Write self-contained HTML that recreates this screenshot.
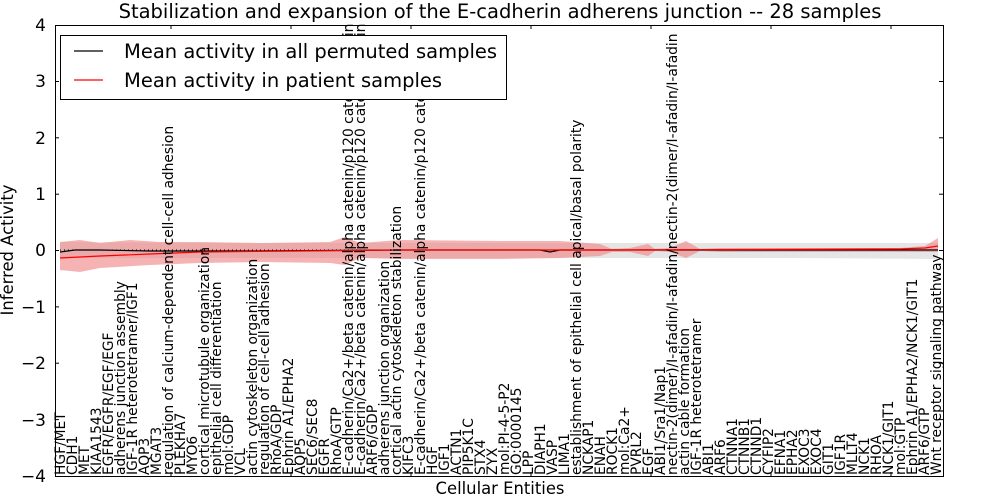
<!DOCTYPE html>
<html><head><meta charset="utf-8"><style>
body{margin:0;background:#fff;width:1000px;height:500px;overflow:hidden;font-family:"DejaVu Sans","Liberation Sans",sans-serif}
</style></head><body>
<svg width="1000" height="500" xmlns="http://www.w3.org/2000/svg" font-family="DejaVu Sans, Liberation Sans, sans-serif">
<rect width="1000" height="500" fill="#fff"/>
<polygon fill="#d3d3d3" fill-opacity="0.6" points="60,242 200,243 400,243 600,243 700,243 800,243 938,243 938,259 800,258 700,258 600,258 400,258 200,258 60,258"/>
<polygon fill="#f08080" fill-opacity="0.6" points="60,242 80,240 100,243 130,240 160,242 200,242 260,243 330,242 345,237 360,243 400,240 500,241 560,241 600,244 612,249 630,248 648,244 655,249 670,248 686,241 700,249 720,248 900,248 925,246 938,238 938,252 925,252 900,252 720,252 700,251 686,258 670,252 655,251 648,256 630,252 612,252 600,256 560,258 500,259 400,259 360,258 345,265 330,263 260,262 200,263 150,265 100,268 80,272 60,270"/>
<polyline fill="none" stroke="#000" stroke-width="1" stroke-dasharray="1,3" points="60,250 938,250"/>
<polyline fill="none" stroke="#000" stroke-width="1.2" points="60,252 75,250 100,250 150,251 250,251 400,250 540,250 550,252 560,250 938,250"/>
<polyline fill="none" stroke="#f00" stroke-width="1.2" points="60,258 100,256 150,254 200,252 300,251 400,250 600,250 900,249 925,248 938,246"/>
<rect x="55.5" y="25.5" width="888" height="451" fill="none" stroke="#000" stroke-width="1"/>
<g stroke="#000" stroke-width="1">
<line x1="171" y1="476" x2="171" y2="472"/><line x1="291" y1="476" x2="291" y2="472"/><line x1="411" y1="476" x2="411" y2="472"/><line x1="531" y1="476" x2="531" y2="472"/><line x1="651" y1="476" x2="651" y2="472"/><line x1="771" y1="476" x2="771" y2="472"/><line x1="891" y1="476" x2="891" y2="472"/>
<line x1="171" y1="25" x2="171" y2="29"/><line x1="291" y1="25" x2="291" y2="29"/><line x1="411" y1="25" x2="411" y2="29"/><line x1="531" y1="25" x2="531" y2="29"/><line x1="651" y1="25" x2="651" y2="29"/><line x1="771" y1="25" x2="771" y2="29"/><line x1="891" y1="25" x2="891" y2="29"/>
<line x1="55" y1="81.5" x2="59" y2="81.5"/><line x1="55" y1="137.8" x2="59" y2="137.8"/><line x1="55" y1="194.2" x2="59" y2="194.2"/><line x1="55" y1="250.5" x2="59" y2="250.5"/><line x1="55" y1="306.9" x2="59" y2="306.9"/><line x1="55" y1="363.2" x2="59" y2="363.2"/><line x1="55" y1="419.6" x2="59" y2="419.6"/>
<line x1="943" y1="81.5" x2="939" y2="81.5"/><line x1="943" y1="137.8" x2="939" y2="137.8"/><line x1="943" y1="194.2" x2="939" y2="194.2"/><line x1="943" y1="250.5" x2="939" y2="250.5"/><line x1="943" y1="306.9" x2="939" y2="306.9"/><line x1="943" y1="363.2" x2="939" y2="363.2"/><line x1="943" y1="419.6" x2="939" y2="419.6"/>
</g>
<g font-size="17" text-anchor="end" fill="#000">
<text x="46" y="31">4</text><text x="46" y="87">3</text><text x="46" y="144">2</text><text x="46" y="200">1</text><text x="46" y="256">0</text><text x="46" y="313">−1</text><text x="46" y="369">−2</text><text x="46" y="426">−3</text><text x="46" y="482">−4</text>
</g>
<text x="500" y="18" font-size="19.5" text-anchor="middle">Stabilization and expansion of the E-cadherin adherens junction -- 28 samples</text>
<text x="500" y="494" font-size="16.4" text-anchor="middle">Cellular Entities</text>
<text transform="translate(13,250) rotate(-90)" font-size="16.4" text-anchor="middle">Inferred Activity</text>
<g font-size="13.8">
<text transform="translate(65,475) rotate(-90)">HGF/MET</text>
<text transform="translate(77,475) rotate(-90)">CDH1</text>
<text transform="translate(89,475) rotate(-90)">MET</text>
<text transform="translate(101,475) rotate(-90)">KIAA1543</text>
<text transform="translate(113,475) rotate(-90)">EGFR/EGFR/EGF/EGF</text>
<text transform="translate(125,475) rotate(-90)">adherens junction assembly</text>
<text transform="translate(137,475) rotate(-90)">IGF-1R heterotetramer/IGF1</text>
<text transform="translate(149,475) rotate(-90)">AQP3</text>
<text transform="translate(161,475) rotate(-90)">MGAT3</text>
<text transform="translate(173,475) rotate(-90)">regulation of calcium-dependent cell-cell adhesion</text>
<text transform="translate(185,475) rotate(-90)">PLEKHA7</text>
<text transform="translate(197,475) rotate(-90)">MYO6</text>
<text transform="translate(209,475) rotate(-90)">cortical microtubule organization</text>
<text transform="translate(221,475) rotate(-90)">epithelial cell differentiation</text>
<text transform="translate(233,475) rotate(-90)">mol:GDP</text>
<text transform="translate(245,475) rotate(-90)">VCL</text>
<text transform="translate(257,475) rotate(-90)">actin cytoskeleton organization</text>
<text transform="translate(269,475) rotate(-90)">regulation of cell-cell adhesion</text>
<text transform="translate(281,475) rotate(-90)">RhoA/GDP</text>
<text transform="translate(293,475) rotate(-90)">Ephrin A1/EPHA2</text>
<text transform="translate(305,475) rotate(-90)">AQP5</text>
<text transform="translate(317,475) rotate(-90)">SEC6/SEC8</text>
<text transform="translate(329,475) rotate(-90)">EGFR</text>
<text transform="translate(341,475) rotate(-90)">RhoA/GTP</text>
<text transform="translate(353,475) rotate(-90)">E-cadherin/Ca2+/beta catenin/alpha catenin/p120 catenin/Nectin</text>
<text transform="translate(365,475) rotate(-90)">E-cadherin/Ca2+/beta catenin/alpha catenin/p120 catenin/Nectin</text>
<text transform="translate(377,475) rotate(-90)">ARF6/GDP</text>
<text transform="translate(389,475) rotate(-90)">adherens junction organization</text>
<text transform="translate(401,475) rotate(-90)">cortical actin cytoskeleton stabilization</text>
<text transform="translate(413,475) rotate(-90)">KIFC3</text>
<text transform="translate(425,475) rotate(-90)">E-cadherin/Ca2+/beta catenin/alpha catenin/p120 catenin</text>
<text transform="translate(437,475) rotate(-90)">HGF</text>
<text transform="translate(449,475) rotate(-90)">IGF1</text>
<text transform="translate(461,475) rotate(-90)">ACTN1</text>
<text transform="translate(473,475) rotate(-90)">PIP5K1C</text>
<text transform="translate(485,475) rotate(-90)">STX4</text>
<text transform="translate(497,475) rotate(-90)">ZYX</text>
<text transform="translate(509,475) rotate(-90)">mol:PI-4-5-P2</text>
<text transform="translate(521,475) rotate(-90)">GO:0000145</text>
<text transform="translate(533,475) rotate(-90)">LPP</text>
<text transform="translate(545,475) rotate(-90)">DIAPH1</text>
<text transform="translate(557,475) rotate(-90)">VASP</text>
<text transform="translate(569,475) rotate(-90)">LIMA1</text>
<text transform="translate(581,475) rotate(-90)">establishment of epithelial cell apical/basal polarity</text>
<text transform="translate(593,475) rotate(-90)">NCKAP1</text>
<text transform="translate(605,475) rotate(-90)">ENAH</text>
<text transform="translate(617,475) rotate(-90)">ROCK1</text>
<text transform="translate(629,475) rotate(-90)">mol:Ca2+</text>
<text transform="translate(641,475) rotate(-90)">PVRL2</text>
<text transform="translate(653,475) rotate(-90)">EGF</text>
<text transform="translate(665,475) rotate(-90)">ABI1/Sra1/Nap1</text>
<text transform="translate(677,475) rotate(-90)">nectin-2(dimer)/I-afadin/I-afadin/nectin-2(dimer/I-afadin/I-afadin</text>
<text transform="translate(689,475) rotate(-90)">actin cable formation</text>
<text transform="translate(701,475) rotate(-90)">IGF-1R heterotetramer</text>
<text transform="translate(713,475) rotate(-90)">ABI1</text>
<text transform="translate(725,475) rotate(-90)">ARF6</text>
<text transform="translate(737,475) rotate(-90)">CTNNA1</text>
<text transform="translate(749,475) rotate(-90)">CTNNB1</text>
<text transform="translate(761,475) rotate(-90)">CTNND1</text>
<text transform="translate(773,475) rotate(-90)">CYFIP2</text>
<text transform="translate(785,475) rotate(-90)">EFNA1</text>
<text transform="translate(797,475) rotate(-90)">EPHA2</text>
<text transform="translate(809,475) rotate(-90)">EXOC3</text>
<text transform="translate(821,475) rotate(-90)">EXOC4</text>
<text transform="translate(833,475) rotate(-90)">GIT1</text>
<text transform="translate(845,475) rotate(-90)">IGF1R</text>
<text transform="translate(857,475) rotate(-90)">MLLT4</text>
<text transform="translate(869,475) rotate(-90)">NCK1</text>
<text transform="translate(881,475) rotate(-90)">RHOA</text>
<text transform="translate(893,475) rotate(-90)">NCK1/GIT1</text>
<text transform="translate(905,475) rotate(-90)">mol:GTP</text>
<text transform="translate(917,475) rotate(-90)">Ephrin A1/EPHA2/NCK1/GIT1</text>
<text transform="translate(929,475) rotate(-90)">ARF6/GTP</text>
<text transform="translate(941,475) rotate(-90)">Wnt receptor signaling pathway</text>
</g>
<rect x="60.5" y="35.5" width="446" height="64" fill="#fff" stroke="#000" stroke-width="1"/>
<line x1="74" y1="51" x2="103" y2="51" stroke="#000" stroke-width="1.2"/>
<line x1="74" y1="80" x2="103" y2="80" stroke="#f00" stroke-width="1.2"/>
<text x="124" y="58" font-size="19.5">Mean activity in all permuted samples</text>
<text x="124" y="87" font-size="19.5">Mean activity in patient samples</text>
</svg>
</body></html>
